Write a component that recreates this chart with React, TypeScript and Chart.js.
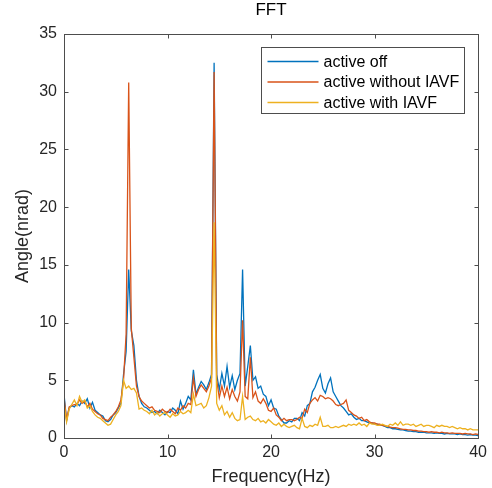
import React, { useEffect, useRef } from 'react';
import { Chart, registerables } from 'chart.js';

Chart.register(...registerables);

// Sampling grid of the spectrum (Hz between samples)
const FREQ_STEP = 0.25;
const X_TICKS = [0, 10, 20, 30, 40];
const Y_TICKS = [0, 5, 10, 15, 20, 25, 30, 35];
const SERIES_NAMES = ['active off', 'active without IAVF', 'active with IAVF'];
const COLORS = ['#0072BD', '#D95319', '#EDB120'];

// Amplitudes (nrad), one value every 0.25 Hz from 0 to 40 Hz
const ACTIVE_OFF = [
  3.8, 1.5, 2.6, 2.8, 2.7, 3.0, 2.8, 3.2,
  3.0, 3.4, 2.6, 3.1, 2.4, 2.2, 2.0, 1.9,
  1.5, 1.4, 1.6, 2.0, 2.2, 2.6, 3.0, 5.5,
  7.5, 14.6, 9.3, 8.0, 5.0, 3.6, 3.0, 2.7,
  2.6, 2.4, 2.2, 2.3, 2.1, 2.4, 2.2, 2.0,
  2.3, 2.2, 2.6, 2.4, 2.1, 3.2, 2.5, 3.0,
  3.6, 3.3, 5.9, 3.8, 4.4, 4.9, 4.6, 4.2,
  4.8, 5.5, 32.5, 5.5, 4.2, 5.6, 4.5, 6.2,
  4.4, 5.4, 4.2, 5.0, 5.6, 14.6, 4.5, 6.2,
  8.0, 5.0, 5.3, 4.3, 4.5, 3.8, 3.6, 2.8,
  3.3, 2.6, 2.5, 1.9, 1.6, 1.3, 1.3, 1.5,
  1.4, 1.7, 1.7, 1.5, 2.2, 1.9, 2.8, 3.0,
  4.0, 4.4, 5.0, 5.5, 4.3, 3.9, 4.7, 5.2,
  4.0, 3.6, 3.2, 2.8, 2.6, 2.3, 2.0, 2.1,
  1.8, 1.6, 1.7, 1.5, 1.5, 1.4, 1.3, 1.3,
  1.2, 1.2, 1.1, 1.1, 1.0, 0.9, 0.9, 0.8,
  0.8, 0.75, 0.7, 0.7, 0.65, 0.6, 0.6, 0.55,
  0.55, 0.5, 0.5, 0.5, 0.45, 0.45, 0.45, 0.4,
  0.45, 0.4, 0.4, 0.35, 0.4, 0.35, 0.35, 0.35,
  0.3, 0.35, 0.3, 0.3, 0.25, 0.3, 0.25, 0.25,
  0.2,
];

const ACTIVE_WITHOUT_IAVF = [
  3.5, 1.6, 2.7, 2.8, 2.9, 2.9, 3.3, 3.0,
  3.2, 2.7, 3.0, 2.5, 2.3, 2.1, 2.0, 1.7,
  1.6, 1.5, 1.8, 2.0, 2.3, 2.7, 3.3, 5.0,
  9.0, 30.8, 9.5, 7.0, 4.5, 3.6, 3.2, 3.0,
  2.8, 2.6, 2.7, 2.4, 2.3, 2.2, 2.5, 2.3,
  2.2, 2.5, 2.3, 2.1, 2.6, 2.4, 2.8, 2.6,
  3.0, 2.9, 5.2, 3.6, 4.2, 4.6, 4.3, 4.0,
  4.5, 5.2, 31.7, 5.0, 3.5, 4.5, 3.6, 4.4,
  3.4, 4.2, 3.6, 3.2, 4.0, 10.2, 3.6, 3.4,
  7.0, 3.5, 4.0, 3.2, 3.0, 3.4, 3.0, 2.4,
  2.3, 2.6, 2.0, 1.8, 1.5, 1.7, 1.5, 1.6,
  1.6, 1.5, 1.6, 1.8, 1.7, 2.5, 2.2, 3.0,
  3.3, 3.5, 3.2, 3.7, 3.6, 3.4, 3.5, 3.4,
  3.2, 2.9, 2.8, 2.9, 3.0, 3.3, 2.4, 2.2,
  2.0, 1.9, 1.7, 1.8, 1.5, 1.6, 1.4, 1.3,
  1.3, 1.2, 1.2, 1.1, 1.05, 1.0, 0.95, 0.9,
  0.9, 0.85, 0.8, 0.75, 0.75, 0.7, 0.7, 0.65,
  0.65, 0.6, 0.6, 0.55, 0.55, 0.5, 0.55, 0.5,
  0.5, 0.45, 0.5, 0.45, 0.45, 0.4, 0.45, 0.4,
  0.4, 0.4, 0.35, 0.4, 0.35, 0.35, 0.3, 0.35,
  0.3,
];

const ACTIVE_WITH_IAVF = [
  3.0, 1.4, 2.5, 2.9, 3.3, 2.8, 3.6, 3.1,
  3.3, 2.6, 2.8, 2.3, 2.0, 1.8, 1.7, 1.5,
  1.3, 1.1, 1.2, 1.6, 2.0, 2.3, 2.8, 5.0,
  4.3, 4.5, 4.2, 4.3, 3.9, 2.5, 2.6, 2.4,
  2.3, 2.1, 2.4, 2.0, 2.2, 1.9, 2.1, 2.2,
  2.0, 1.8, 2.1, 1.9, 2.0, 2.3, 2.1, 2.2,
  2.4, 2.2, 3.8, 2.8, 2.9, 3.0, 2.6, 2.8,
  3.5, 4.5, 18.7, 3.0, 2.4, 2.8, 2.0, 2.3,
  1.8, 2.2, 1.7, 1.5, 1.6, 3.6, 1.6, 1.8,
  1.9, 1.6, 1.5, 1.7, 1.4, 1.5, 1.3, 1.6,
  1.4, 1.2, 1.1, 1.3, 1.0, 1.2, 1.0, 0.9,
  1.0, 1.1, 0.9, 0.8, 1.7, 1.0, 0.9, 1.1,
  1.0, 1.2, 1.1, 1.8, 1.0, 1.0, 1.1, 0.9,
  0.9, 1.0, 0.9, 1.0, 1.1, 1.0, 1.2, 1.1,
  1.2, 1.1, 1.3, 1.1, 1.2, 1.0, 1.3, 1.2,
  1.2, 1.1, 1.1, 1.2, 1.1, 1.0, 1.2, 1.1,
  1.3, 1.1, 1.4, 1.1, 1.2, 1.2, 1.1, 1.2,
  1.0, 1.1, 1.2, 1.0, 1.1, 1.1, 1.0, 0.9,
  1.1, 1.0, 1.1, 1.0, 1.0, 0.9, 1.0, 0.9,
  0.8, 0.9, 0.8, 0.8, 0.7, 0.8, 0.7, 0.7,
  0.7,
];

const FONT = "'Liberation Sans', Arial, Helvetica, sans-serif";
const AXIS_COLOR = '#4d4d4d';
const TEXT_COLOR = '#262626';

const toPoints = (vals: number[]) => vals.map((v, i) => ({ x: i * FREQ_STEP, y: v }));

const framePlugin = {
  id: 'matlabFrame',
  afterDatasetsDraw(chart: any) {
    const { ctx, chartArea, scales } = chart;
    const l = Math.round(chartArea.left) + 0.5;
    const t = Math.round(chartArea.top) + 0.5;
    const r = Math.round(chartArea.right) + 0.5;
    const b = Math.round(chartArea.bottom) + 0.5;
    ctx.save();
    ctx.strokeStyle = AXIS_COLOR;
    ctx.lineWidth = 1;
    ctx.strokeRect(l, t, r - l, b - t);
    const tl = 4;
    ctx.beginPath();
    X_TICKS.forEach((v) => {
      const px = Math.round(scales.x.getPixelForValue(v)) + 0.5;
      ctx.moveTo(px, b);
      ctx.lineTo(px, b - tl);
      ctx.moveTo(px, t);
      ctx.lineTo(px, t + tl);
    });
    Y_TICKS.forEach((v) => {
      const py = Math.round(scales.y.getPixelForValue(v)) + 0.5;
      ctx.moveTo(l, py);
      ctx.lineTo(l + tl, py);
      ctx.moveTo(r, py);
      ctx.lineTo(r - tl, py);
    });
    ctx.stroke();

    // Title centred on the plot area
    ctx.fillStyle = '#000';
    ctx.font = `17px ${FONT}`;
    ctx.textAlign = 'center';
    ctx.textBaseline = 'middle';
    ctx.fillText('FFT', (chartArea.left + chartArea.right) / 2, 10);

    // Legend box (north-east)
    const bw = 203;
    const bh = 66;
    const bx = Math.round(chartArea.right) - 14 - bw + 0.5;
    const by = Math.round(chartArea.top) + 13 + 0.5;
    ctx.fillStyle = '#fff';
    ctx.fillRect(bx, by, bw, bh);
    ctx.strokeStyle = AXIS_COLOR;
    ctx.strokeRect(bx, by, bw, bh);
    ctx.font = `16px ${FONT}`;
    ctx.textAlign = 'left';
    ctx.textBaseline = 'middle';
    SERIES_NAMES.forEach((name, i) => {
      const ry = by + 14 + i * 20.5;
      ctx.strokeStyle = COLORS[i];
      ctx.lineWidth = 1.3;
      ctx.beginPath();
      ctx.moveTo(bx + 6, ry);
      ctx.lineTo(bx + 57, ry);
      ctx.stroke();
      ctx.fillStyle = '#000';
      ctx.fillText(name, bx + 62, ry + 1);
    });
    ctx.restore();
  },
};

export default function App() {
  const canvasRef = useRef<HTMLCanvasElement | null>(null);

  useEffect(() => {
    if (!canvasRef.current) return;
    const seriesVals = [ACTIVE_OFF, ACTIVE_WITHOUT_IAVF, ACTIVE_WITH_IAVF];
    const chart = new Chart(canvasRef.current, {
      type: 'line',
      data: {
        datasets: seriesVals.map((vals, i) => ({
          label: SERIES_NAMES[i],
          data: toPoints(vals),
          borderColor: COLORS[i],
          backgroundColor: COLORS[i],
          borderWidth: 1.3,
          pointRadius: 0,
          tension: 0,
          fill: false,
          order: 2 - i,
        })),
      },
      options: {
        responsive: false,
        animation: false,
        layout: { padding: { top: 34, right: 12, left: 0, bottom: 0 } },
        plugins: {
          legend: { display: false },
          title: { display: false },
          tooltip: { enabled: false },
        },
        scales: {
          x: {
            type: 'linear',
            min: 0,
            max: 40,
            afterBuildTicks: (s: any) => {
              s.ticks = X_TICKS.map((v) => ({ value: v }));
            },
            afterFit: (s: any) => {
              s.height = 50;
            },
            grid: { display: false, drawTicks: false },
            border: { display: false },
            ticks: {
              padding: 5,
              maxRotation: 0,
              color: TEXT_COLOR,
              font: { family: FONT, size: 16 },
            },
            title: {
              display: true,
              text: 'Frequency(Hz)',
              color: TEXT_COLOR,
              font: { family: FONT, size: 18 },
              padding: { top: 0, bottom: 0 },
            },
          },
          y: {
            type: 'linear',
            min: 0,
            max: 35,
            afterBuildTicks: (s: any) => {
              s.ticks = Y_TICKS.map((v) => ({ value: v }));
            },
            afterFit: (s: any) => {
              s.width = 64;
            },
            grid: { display: false, drawTicks: false },
            border: { display: false },
            ticks: {
              padding: 7,
              color: TEXT_COLOR,
              font: { family: FONT, size: 16 },
            },
            title: {
              display: true,
              text: 'Angle(nrad)',
              color: TEXT_COLOR,
              font: { family: FONT, size: 18 },
              padding: { top: 12, bottom: 0 },
            },
          },
        },
      },
      plugins: [framePlugin],
    });
    return () => chart.destroy();
  }, []);

  return (
    <div style={{ position: 'absolute', left: 0, top: 0, width: 492, height: 488, background: '#fff' }}>
      <canvas ref={canvasRef} width={492} height={488} style={{ display: 'block' }} />
    </div>
  );
}
